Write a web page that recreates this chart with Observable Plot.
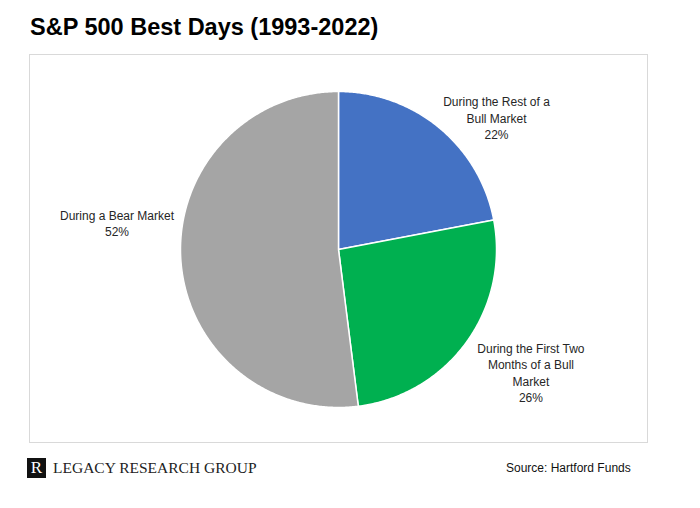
<!DOCTYPE html>
<html>
<head>
<meta charset="utf-8">
<script src="https://cdn.jsdelivr.net/npm/d3@7"></script>
<script src="https://cdn.jsdelivr.net/npm/@observablehq/plot@0.6"></script>
<style>
  html, body { margin: 0; padding: 0; background: #fff; }
  #wrap { position: relative; width: 700px; height: 508px; overflow: hidden; font-family: "Liberation Sans", Arial, sans-serif; }
  #title { position: absolute; left: 30px; top: 13px; font-size: 23.5px; line-height: 28px; font-weight: bold; color: #000; white-space: nowrap; }
  #box { position: absolute; left: 30px; top: 55px; width: 617px; height: 387px; outline: 1.5px solid #d9d9d9; }
  #box svg { display: block; }
  #logo { position: absolute; left: 27px; top: 458px; width: 19px; height: 20px; background: #111; color: #fff; font-family: "Liberation Serif", "Times New Roman", serif; font-size: 17px; line-height: 20px; text-align: center; }
  #brand { position: absolute; left: 53px; top: 458px; font-family: "Liberation Serif", "Times New Roman", serif; font-size: 15.5px; line-height: 20px; color: #222; white-space: nowrap; }
  #source { position: absolute; left: 506px; top: 461px; font-size: 12px; line-height: 14px; color: #111; white-space: nowrap; }
</style>
</head>
<body>
<div id="wrap">
  <div id="title">S&amp;P 500 Best Days (1993-2022)</div>
  <div id="box"></div>
  <div id="logo">R</div>
  <div id="brand">LEGACY RESEARCH GROUP</div>
  <div id="source">Source: Hartford Funds</div>
</div>
<script>
// ---- data ----
const categories = [
  "During the Rest of a Bull Market",
  "During the First Two Months of a Bull Market",
  "During a Bear Market"
];
const shares = [22, 26, 52];
const labelTexts = [
  "During the Rest of a\nBull Market\n22%",
  "During the First Two\nMonths of a Bull\nMarket\n26%",
  "During a Bear Market\n52%"
];
const colors = ["#4472C4", "#00B050", "#A5A5A5"];

// ---- layout (label anchor offsets in pie-radius units) ----
const labelAnchors = [[1.0, 0.835], [1.218, -0.777], [-1.402, 0.171]];

// build slice outlines from the shares (clockwise from 12 o'clock)
const total = d3.sum(shares);
const slicePts = [];
let cum = 0;
categories.forEach((cat, i) => {
  const a0 = cum / total * 2 * Math.PI;
  cum += shares[i];
  const a1 = cum / total * 2 * Math.PI;
  slicePts.push({key: cat, x: 0, y: 0});
  const n = Math.max(2, Math.ceil((a1 - a0) / (Math.PI / 360)));
  for (let k = 0; k <= n; k++) {
    const a = a0 + (a1 - a0) * k / n;
    slicePts.push({key: cat, x: Math.sin(a), y: Math.cos(a)});
  }
});

const labels = categories.map((c, i) => ({
  key: c, text: labelTexts[i], x: labelAnchors[i][0], y: labelAnchors[i][1]
}));

const chart = Plot.plot({
  width: 617,
  height: 387,
  marginLeft: 150,
  marginRight: 151,
  marginTop: 36,
  marginBottom: 35,
  x: {domain: [-1, 1], axis: null},
  y: {domain: [-1, 1], axis: null},
  color: {domain: categories, range: colors},
  style: {fontFamily: "'Liberation Sans', Arial, sans-serif", background: "transparent", overflow: "visible"},
  marks: [
    Plot.line(slicePts, {x: "x", y: "y", z: "key", fill: "key", stroke: "white", strokeWidth: 1.5, curve: "linear-closed"}),
    Plot.text(labels, {x: "x", y: "y", text: "text", fontSize: 12, lineHeight: 1.375, fill: "#262626", textAnchor: "middle"})
  ]
});
document.getElementById("box").appendChild(chart);
</script>
</body>
</html>
